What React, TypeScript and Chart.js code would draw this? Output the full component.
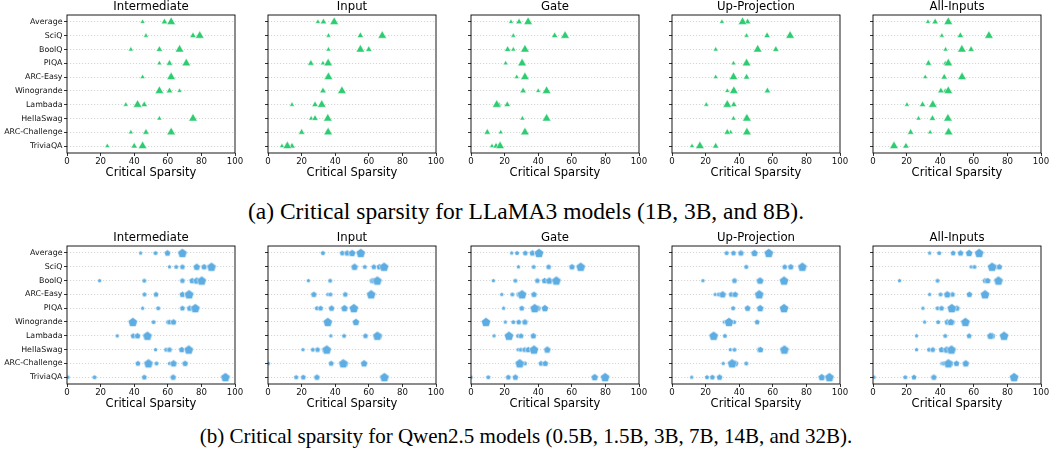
import React, { useEffect, useRef } from "react";
import { Chart, registerables } from "chart.js";
Chart.register(...registerables);

// ---------- DATA ----------
const llamaCategories = ["Average", "SciQ", "BoolQ", "PIQA", "ARC-Easy", "Winogrande", "Lambada", "HellaSwag", "ARC-Challenge", "TriviaQA"];
const qwenCategories = ["Average", "SciQ", "BoolQ", "ARC-Easy", "PIQA", "Winogrande", "Lambada", "HellaSwag", "ARC-Challenge", "TriviaQA"];
const panelTitles = ["Intermediate", "Input", "Gate", "Up-Projection", "All-Inputs"];
const xTickValues = [0, 20, 40, 60, 80, 100];
const xAxisLabel = "Critical Sparsity";
const llamaModels = ["1B", "3B", "8B"];
const qwenModels = ["0.5B", "1.5B", "3B", "7B", "14B", "32B"];
const captionA = "(a) Critical sparsity for LLaMA3 models (1B, 3B, and 8B).";
const captionB = "(b) Critical sparsity for Qwen2.5 models (0.5B, 1.5B, 3B, 7B, 14B, and 32B).";

// LLaMA3: one row per model (1B, 3B, 8B), values in llamaCategories order
const llamaIntermediate = [
  [45, 47, 38, 55, 45, 67, 35, 55, 38, 24],
  [58, 75, 55, 61, 61.5, 61, 46, 75, 47, 40],
  [62, 79, 67, 71, 62, 55, 42, 75, 62, 45],
];
const llamaInput = [
  [29.7, 36, 36, 32.7, 35, 33, 14.3, 25.7, 35, 8.3],
  [33, 55, 60, 25.5, 35.5, 32.7, 28, 28, 20, 14.3],
  [39.4, 68, 55, 35.8, 36, 44, 32, 35.6, 35.8, 11.5],
];
const llamaGate = [
  [23.8, 25.2, 25.2, 20.6, 27.2, 40, 16.7, 30.6, 17.7, 12.5],
  [28.6, 49.8, 21.8, 31, 32, 31, 21.6, 45, 9.7, 14.9],
  [34, 56, 32.1, 30.4, 32.1, 45, 15.3, 45, 32.1, 17.3],
];
const llamaUp = [
  [29.7, 44.4, 26, 36.6, 26, 32.9, 20.4, 36.6, 34.9, 11.9],
  [45, 56.6, 61.8, 44, 44.4, 56.8, 36.8, 44, 32.9, 26],
  [42, 70.3, 51, 44.4, 36.6, 36.8, 32.9, 44.6, 44.6, 16.6],
];
const llamaAll = [
  [32.7, 41, 43.2, 43, 31.1, 43, 20.2, 27.1, 34, 12],
  [37, 52, 58.4, 33, 42.4, 40.4, 29.5, 35.4, 22.4, 19.6],
  [44.8, 69, 52.9, 44.8, 53, 44.8, 35.6, 44.6, 45, 12.5],
];

// Qwen2.5: one row per model (0.5B ... 32B), values in qwenCategories order
const qwenIntermediate = [
  [43.8, 61, 19.4, 46.1, 45, 59.8, 29.9, 52.7, 61, 0.6],
  [52.7, 65, 46, 46.1, 54.3, 51.5, 39.4, 59, 53.3, 16.4],
  [59.8, 68.7, 68.7, 53, 68.7, 61, 39.4, 61, 42.2, 46],
  [59.8, 81.6, 74.5, 68.7, 73, 63.4, 42, 68.3, 70.3, 63.2],
  [68.5, 77.2, 77.2, 72, 76, 39, 47.5, 72, 63.4, 94],
  [68.7, 86, 80.2, 72.7, 76.4, 39.2, 47.9, 72.5, 48.5, 94.3],
];
const qwenInput = [
  [32.7, 51, 24, 35.6, 29.1, 34.8, 37.4, 20.8, 0.2, 16.8],
  [32.7, 57.6, 37, 37.2, 29.1, 35.2, 45.3, 26.7, 37.6, 16.8],
  [44.2, 63, 61.8, 46, 31.3, 35.6, 58, 29.5, 37.6, 21],
  [47.1, 66.3, 63, 27.3, 37.8, 52.5, 66.3, 33.7, 46.1, 29.1],
  [50.1, 51.5, 65, 61.2, 45.5, 52.3, 65, 34.5, 57.2, 69],
  [55.2, 69.1, 65.1, 61.4, 51.1, 35.6, 65.1, 35, 44.8, 69.3],
];
const qwenGate = [
  [24.2, 28.2, 13.3, 18.3, 19.4, 20.4, 13.7, 28, 29, 0],
  [27.4, 37.3, 26.4, 24.6, 30.2, 25.2, 28, 29.6, 32.1, 10.3],
  [32.3, 46.2, 39.5, 28.4, 30.2, 28.4, 29.8, 31.9, 41.7, 22.2],
  [36.5, 60.1, 43.8, 37.5, 39.9, 32.1, 37.1, 34.1, 44.2, 26.4],
  [40, 65, 46.6, 30.2, 44, 9, 22.4, 45.4, 29, 73.6],
  [40.5, 65.3, 50.8, 30.4, 37.9, 8.9, 22.6, 37.5, 29, 79.8],
];
const qwenUp = [
  [32.5, 44.2, 18.4, 25.7, 36.4, 31.1, 24.8, 34.7, 30.5, 11.7],
  [32.5, 44.2, 37.2, 27.9, 36.4, 37, 31.5, 37.2, 44.2, 20.8],
  [36.6, 67.1, 37.2, 35.2, 45, 50.7, 24.6, 51.9, 37.4, 24],
  [41, 70.7, 51.9, 37.6, 45, 33.5, 24.8, 52.7, 37.8, 28.3],
  [49.1, 77.4, 52.5, 30.1, 52.5, 33.7, 24.7, 66.7, 35.6, 89.1],
  [57.6, 77.6, 66.7, 51.9, 66.7, 33.9, 24.8, 66.9, 35.8, 93.7],
];
const qwenAll = [
  [33.7, 58.4, 15.8, 33.7, 29.7, 30.7, 25.9, 25.9, 41, 0.6],
  [39.4, 60.4, 38.4, 40.2, 38.4, 38.8, 43, 33.3, 42.2, 19.2],
  [47.7, 72.7, 66.7, 47.3, 40.8, 47.3, 57.2, 35.6, 46.5, 24.4],
  [52.1, 75.2, 68.3, 57.4, 49.9, 44.2, 71.1, 40.8, 49.7, 36.2],
  [57.2, 70.7, 74.5, 44.2, 46.7, 46.3, 69.9, 43.8, 55.2, 83.8],
  [63.2, 70.9, 74.7, 66.7, 46.9, 55, 78, 46.7, 44.9, 84],
];

const llamaPanels = [llamaIntermediate, llamaInput, llamaGate, llamaUp, llamaAll];
const qwenPanels = [qwenIntermediate, qwenInput, qwenGate, qwenUp, qwenAll];

// ---------- STYLE / LAYOUT ----------
const GREEN = "#2ecc71";
const BLUE = "#5dade2";
const FONT = "'DejaVu Sans', sans-serif";
const Y_AXIS_W = 66;
const PLOT_W = 168;
const PAD_R = 10;
const TITLE_H = 15;
const PLOT_H = 138;
const X_AXIS_H = 32;
const CANVAS_W = Y_AXIS_W + PLOT_W + PAD_R;
const CANVAS_H = TITLE_H + PLOT_H + X_AXIS_H;
const PANEL_LEFTS = [1, 202, 405, 606, 807];
const ROW_TOPS = [0, 231];
const llamaRadii = [2.9, 3.7, 5.0];
const qwenRadii = [2.2, 2.6, 3.0, 3.4, 3.9, 5.0];

function makePentagon(r: number, fill: string): HTMLCanvasElement {
  const size = Math.ceil(2 * r + 2);
  const c = document.createElement("canvas");
  c.width = size;
  c.height = size;
  const ctx = c.getContext("2d")!;
  const cx = size / 2;
  const cy = size / 2 + r * 0.1;
  ctx.beginPath();
  for (let k = 0; k < 5; k++) {
    const a = -Math.PI / 2 + (k * 2 * Math.PI) / 5;
    const px = cx + r * Math.cos(a);
    const py = cy + r * Math.sin(a);
    if (k === 0) ctx.moveTo(px, py);
    else ctx.lineTo(px, py);
  }
  ctx.closePath();
  ctx.fillStyle = fill;
  ctx.fill();
  ctx.lineWidth = 0.5;
  ctx.strokeStyle = "#ffffff";
  ctx.stroke();
  return c;
}

const framePlugin = {
  id: "frame",
  afterDatasetsDraw(chart: any) {
    const { ctx, chartArea } = chart;
    const { left, top, right, bottom } = chartArea;
    ctx.save();
    ctx.strokeStyle = "#000";
    ctx.lineWidth = 0.9;
    ctx.strokeRect(left, top, right - left, bottom - top);
    ctx.restore();
  },
};

type PanelProps = {
  title: string;
  categories: string[];
  series: number[][];
  models: string[];
  kind: "tri" | "pent";
  showYLabels: boolean;
  left: number;
  top: number;
};

function Panel({ title, categories, series, models, kind, showYLabels, left, top }: PanelProps) {
  const ref = useRef<HTMLCanvasElement | null>(null);
  useEffect(() => {
    if (!ref.current) return;
    const color = kind === "tri" ? GREEN : BLUE;
    const radii = kind === "tri" ? llamaRadii : qwenRadii;
    const datasets = series.map((vals, i) => ({
      label: models[i],
      data: vals.map((v, j) => ({ x: v, y: j })),
      pointStyle: kind === "tri" ? ("triangle" as any) : (makePentagon(radii[i], color) as any),
      pointRadius: radii[i],
      backgroundColor: color,
      borderColor: "#ffffff",
      borderWidth: 0.5,
      order: series.length - i,
    }));
    const chart = new Chart(ref.current, {
      type: "scatter",
      data: { datasets },
      options: {
        animation: false,
        responsive: false,
        events: [],
        layout: { padding: { left: 0, right: PAD_R, top: 0, bottom: 0 } },
        plugins: {
          legend: { display: false },
          tooltip: { enabled: false },
          title: {
            display: true,
            fullSize: false,
            text: title,
            color: "#000",
            font: { family: FONT, size: 11.7, weight: "normal" as any, lineHeight: 1.15 },
            padding: { top: 0.5, bottom: 1.05 },
          },
        },
        scales: {
          x: {
            type: "linear",
            min: 0,
            max: 100,
            afterBuildTicks: (s: any) => {
              s.ticks = xTickValues.map((v) => ({ value: v }));
            },
            afterFit: (s: any) => {
              s.height = X_AXIS_H;
            },
            ticks: {
              autoSkip: false,
              maxRotation: 0,
              padding: 0.5,
              color: "#111",
              font: { family: FONT, size: 8.6 },
            },
            grid: {
              display: true,
              drawOnChartArea: false,
              drawTicks: true,
              tickLength: 3,
              tickColor: "#000",
              tickWidth: 0.8,
            },
            border: { display: false },
            title: {
              display: true,
              text: xAxisLabel,
              color: "#000",
              font: { family: FONT, size: 11.5 },
              padding: { top: 0, bottom: 5 },
            },
          },
          y: {
            type: "linear",
            min: -0.5,
            max: 9.5,
            reverse: true,
            afterBuildTicks: (s: any) => {
              s.ticks = categories.map((_, j) => ({ value: j }));
            },
            afterFit: (s: any) => {
              s.width = Y_AXIS_W;
            },
            ticks: {
              display: showYLabels,
              autoSkip: false,
              padding: 1.5,
              color: "#111",
              font: { family: FONT, size: 7.9 },
              callback: (v: any) => categories[Math.round(Number(v))],
            },
            grid: {
              display: true,
              drawOnChartArea: true,
              drawTicks: true,
              color: "#cccccc",
              lineWidth: 0.8,
              tickLength: 3,
              tickColor: "#000",
              tickWidth: 0.8,
            },
            border: { display: false, dash: [1.2, 1.8] },
          },
        },
      },
      plugins: [framePlugin],
    });
    return () => chart.destroy();
  }, [title, categories, series, models, kind, showYLabels]);
  return (
    <canvas
      ref={ref}
      width={CANVAS_W}
      height={CANVAS_H}
      style={{ position: "absolute", left, top, width: CANVAS_W, height: CANVAS_H }}
    />
  );
}

const captionStyle: React.CSSProperties = {
  position: "absolute",
  left: 0,
  width: 1052,
  textAlign: "center",
  fontFamily: "'Liberation Serif', 'Times New Roman', serif",
  lineHeight: "24px",
  color: "#000",
  whiteSpace: "nowrap",
};

export default function App() {
  return (
    <div style={{ position: "fixed", left: 0, top: 0, width: 1052, height: 458, background: "#fff", overflow: "hidden" }}>
      {panelTitles.map((t, i) => (
        <Panel
          key={"a" + i}
          title={t}
          categories={llamaCategories}
          series={llamaPanels[i]}
          models={llamaModels}
          kind="tri"
          showYLabels={i === 0}
          left={PANEL_LEFTS[i]}
          top={ROW_TOPS[0]}
        />
      ))}
      <div style={{ ...captionStyle, top: 199, fontSize: 23.5 }}>{captionA}</div>
      {panelTitles.map((t, i) => (
        <Panel
          key={"b" + i}
          title={t}
          categories={qwenCategories}
          series={qwenPanels[i]}
          models={qwenModels}
          kind="pent"
          showYLabels={i === 0}
          left={PANEL_LEFTS[i]}
          top={ROW_TOPS[1]}
        />
      ))}
      <div style={{ ...captionStyle, top: 424, fontSize: 21 }}>{captionB}</div>
    </div>
  );
}
